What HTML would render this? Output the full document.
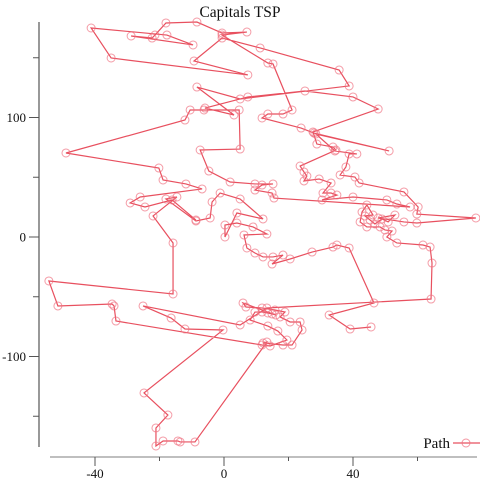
<!DOCTYPE html>
<html><head><meta charset="utf-8"><style>
html,body{margin:0;padding:0;background:#fff;}
svg{display:block;font-family:"Liberation Serif",serif;}
</style></head><body>
<svg id="chart" width="480" height="480" viewBox="0 0 480 480">
<text x="240" y="17" font-size="15.5" text-anchor="middle" fill="#111">Capitals TSP</text>
<line x1="39" y1="22" x2="39" y2="447" stroke="#555" stroke-width="1.2"/>
<line x1="50" y1="457" x2="477" y2="457" stroke="#999" stroke-width="1.2"/>
<g id="ticks"></g>
<g id="path-layer"></g>
<g>
<text x="450" y="448" font-size="15" text-anchor="end" fill="#111">Path</text>
<line x1="453" y1="443" x2="480" y2="443" stroke="#e8505f" stroke-width="1.2"/>
<circle cx="466" cy="443" r="4" fill="none" stroke="#f07080" stroke-opacity="0.75" stroke-width="1"/>
</g>
</svg>
<script>
const lonValues = [45.6,39.1,32.6,46.5,38.8,35.0,33.8,27.3,20.5,14.9,18.3,15.2,12.1,9.6,7.1,6.2,13.3,9.0,4.0,0.3,0.3,4.0,12.1,5.0,-1.2,-3.7,-4.3,-8.7,-18.0,-14.6,-22.0,-15.8,-15.8,-54.3,-51.5,-34.7,-34.1,-33.5,11.8,14.3,19.5,16.7,13.6,8.1,9.6,11.8,13.6,14.9,16.1,5.9,6.8,11.8,15.8,18.9,17.4,20.5,23.6,24.2,21.1,18.3,12.1,13.3,-9.0,-13.6,-14.3,-18.9,-21.1,-21.1,-17.4,-24.8,-0.3,-12.1,-16.4,-25.1,5.0,13.3,64.2,64.5,63.9,61.7,53.6,50.5,52.1,49.9,48.4,44.3,42.2,42.8,44.3,46.2,43.7,45.3,46.8,49.0,50.9,53.0,47.8,55.8,59.8,78.1,59.8,60.2,55.8,41.9,40.6,36.0,37.8,38.8,41.2,34.4,28.5,51.2,27.9,23.9,11.8,13.6,18.3,21.1,15.2,13.6,-0.6,7.1,-0.6,-8.4,-18.0,-21.4,-22.3,-28.8,-9.6,-17.7,-41.2,-35.0,7.4,-9.3,-0.6,11.2,35.7,38.8,5.0,-8.4,3.1,-5.9,7.4,25.1,40.0,47.8,27.6,28.8,33.8,34.7,23.6,24.8,25.7,24.8,29.5,33.2,30.7,33.2,35.0,30.4,40.0,50.5,53.6,57.7,15.5,14.9,9.6,11.8,15.2,9.6,1.9,-4.7,-7.4,5.0,4.7,-6.2,-10.5,-12.1,-49.0,-20.2,-18.9,-11.8,-6.8,-26.0,-29.1,-24.5,-16.1,-8.7];
const latValues = [-75.3,-77.0,-65.3,-55.2,-9.2,-6.7,-8.4,-12.6,-18.4,-22.6,-15.1,-16.7,-16.7,-13.4,-9.2,1.7,2.5,8.4,11.7,10.0,0,20.1,15.1,31.8,36.8,29.3,15.9,13.4,31.8,33.5,17.6,-5.0,-47.7,-36.8,-57.7,-56.1,-57.7,-70.3,-90.4,-91.2,-86.2,-78.7,-74.5,-69.5,-62.8,-62.8,-63.6,-64.4,-65.3,-55.2,-58.6,-59.4,-61.1,-62.8,-66.9,-71.1,-71.1,-77.8,-90.4,-90.4,-88.7,-87.9,-171.5,-171.5,-170.7,-170.7,-174.9,-159.8,-149.0,-130.5,-77.8,-77.0,-67.8,-57.7,-73.6,-59.4,-51.9,-21.8,-8.4,-6.7,-5.0,0,5.0,5.9,8.4,8.4,12.6,20.9,26.8,18.4,17.6,14.2,10.9,15.1,12.6,18.4,15.9,12.6,11.7,15.9,19.2,25.1,37.7,45.2,50.2,51.9,58.6,69.5,69.5,72.0,86.2,72.0,87.0,91.2,99.6,102.9,102.9,106.3,144.8,145.6,169.0,171.5,170.7,179.9,179.1,169.0,166.5,168.2,160.7,169.0,174.9,149.8,135.6,147.3,166.5,158.2,139.7,126.4,115.5,125.5,102.1,107.9,117.2,122.2,117.2,107.1,87.9,77.8,75.3,72.8,59.4,54.4,51.0,46.9,48.5,45.2,36.8,36.8,35.1,31.0,33.5,31.0,27.6,25.1,32.6,36.8,39.3,43.5,44.4,44.4,46.0,55.2,72.8,73.6,106.3,106.3,106.3,97.9,70.3,57.7,47.7,44.4,40.2,33.5,28.5,25.1,31.0,14.2];
const xTickValues = [-40,-20,0,20,40,60];
const xTickLabels = ["-40","","0","","40",""];
const yTickValues = [150,100,50,0,-50,-100,-150];
const yTickLabels = ["","100","","0","","-100",""];

const NS = "http://www.w3.org/2000/svg";
function xs(v){ return 224 + v*3.225; }
function ys(v){ return 237 - v*1.195; }

const tg = document.getElementById('ticks');
xTickValues.forEach((v,i)=>{
  const major = xTickLabels[i] !== "";
  const t = document.createElementNS(NS,'line');
  
  
  t.setAttribute('x1',xs(v)); t.setAttribute('x2',xs(v));
  t.setAttribute('y1',457); t.setAttribute('y2',major?466:461);
  t.setAttribute('stroke','#555'); t.setAttribute('stroke-width','1');
  tg.appendChild(t);
  if(major){
    const tx = document.createElementNS(NS,'text');
    
    
    tx.setAttribute('x',xs(v)); tx.setAttribute('y',478);
    tx.setAttribute('font-size','13'); tx.setAttribute('text-anchor','middle'); tx.setAttribute('fill','#111');
    tx.textContent = xTickLabels[i];
    tg.appendChild(tx);
  }
});
yTickValues.forEach((v,i)=>{
  const major = yTickLabels[i] !== "";
  const t = document.createElementNS(NS,'line');
  
  
  t.setAttribute('x1',major?29:33); t.setAttribute('x2',39);
  t.setAttribute('y1',ys(v)); t.setAttribute('y2',ys(v));
  t.setAttribute('stroke','#555'); t.setAttribute('stroke-width','1');
  tg.appendChild(t);
  if(major){
    const tx = document.createElementNS(NS,'text');
    
    
    tx.setAttribute('x',26); tx.setAttribute('y',ys(v)+4.5);
    tx.setAttribute('font-size','13'); tx.setAttribute('text-anchor','end'); tx.setAttribute('fill','#111');
    tx.textContent = yTickLabels[i];
    tg.appendChild(tx);
  }
});

const pg = document.getElementById('path-layer');
const pl = document.createElementNS(NS,'polyline');


pl.setAttribute('points', lonValues.map((x,i)=>xs(x)+','+ys(latValues[i])).join(' '));
pl.setAttribute('fill','none'); pl.setAttribute('stroke','#e8505f'); pl.setAttribute('stroke-width','1.2');
pg.appendChild(pl);
lonValues.forEach((x,i)=>{
  const c = document.createElementNS(NS,'circle');
  
  
  c.setAttribute('cx',xs(x)); c.setAttribute('cy',ys(latValues[i])); c.setAttribute('r',4);
  c.setAttribute('fill','none'); c.setAttribute('stroke','#f07080'); c.setAttribute('stroke-opacity','0.7'); c.setAttribute('stroke-width','1');
  pg.appendChild(c);
});
</script>
</body></html>
